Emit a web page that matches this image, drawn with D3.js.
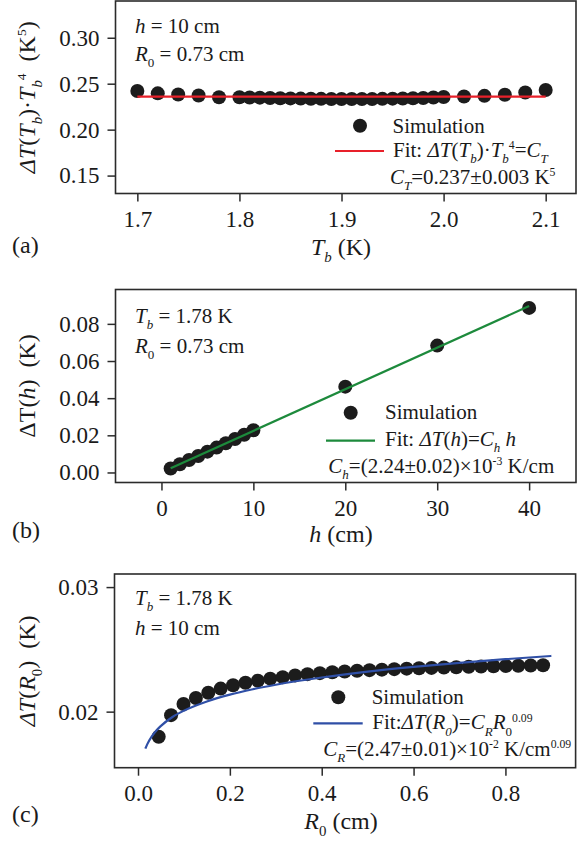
<!DOCTYPE html>
<html><head><meta charset="utf-8">
<script src="https://cdn.jsdelivr.net/npm/d3@7"></script>
<style>html,body{margin:0;padding:0;background:#fff;} text{font-family:"Liberation Serif","Times New Roman",serif;white-space:pre;}</style>
</head><body>
<script>
// ---------- Panel (a) data ----------
const tbValues = [1.70,1.72,1.74,1.76,1.78,1.80,1.81,1.82,1.83,1.84,1.85,1.86,1.87,1.88,1.89,1.90,1.91,1.92,1.93,1.94,1.95,1.96,1.97,1.98,1.99,2.00,2.02,2.04,2.06,2.08,2.10];
const dtTb4Values = [0.2420,0.2395,0.2382,0.2372,0.2352,0.2352,0.2350,0.2348,0.2345,0.2342,0.2340,0.2338,0.2336,0.2335,0.2334,0.2333,0.2333,0.2334,0.2334,0.2335,0.2337,0.2339,0.2341,0.2344,0.2350,0.2356,0.2360,0.2368,0.2380,0.2405,0.2432];
const fitA_x = [1.70, 2.10];
const fitA_y = [0.236, 0.236];
const xTicksA = [1.7,1.8,1.9,2.0,2.1];
const yTicksA = [0.15,0.20,0.25,0.30];

// ---------- Panel (b) data ----------
const hValues = [1,2,3,4,5,6,7,8,9,10,20,30,40];
const dtHValues = [0.0021,0.0044,0.0067,0.0089,0.0112,0.0134,0.0157,0.0180,0.0203,0.0227,0.0462,0.0683,0.0886];
const fitB_x = [1, 40];
const fitB_y = [0.00224, 0.0896];
const xTicksB = [0,10,20,30,40];
const yTicksB = [0.00,0.02,0.04,0.06,0.08];

// ---------- Panel (c) data ----------
const r0Values = [0.045,0.072,0.099,0.126,0.153,0.180,0.207,0.234,0.261,0.288,0.315,0.342,0.369,0.396,0.423,0.450,0.477,0.504,0.531,0.558,0.585,0.612,0.639,0.666,0.693,0.720,0.747,0.774,0.801,0.828,0.855,0.882];
const dtRValues = [0.01798,0.01972,0.02061,0.02110,0.02152,0.02185,0.02212,0.02232,0.02249,0.02265,0.02277,0.02291,0.02301,0.02309,0.02316,0.02322,0.02328,0.02333,0.02337,0.02341,0.02345,0.02348,0.02351,0.02354,0.02357,0.02360,0.02362,0.02365,0.02367,0.02369,0.02371,0.02373];
const fitC_x = [0.016,0.02,0.03,0.04,0.05,0.075,0.1,0.15,0.2,0.25,0.3,0.4,0.5,0.6,0.7,0.8,0.9];
const fitC_y = [0.01703,0.01737,0.01801,0.01849,0.01886,0.01957,0.02008,0.02082,0.02137,0.02180,0.02216,0.02274,0.02321,0.02359,0.02392,0.02421,0.02447];
const xTicksC = [0.0,0.2,0.4,0.6,0.8];
const yTicksC = [0.02,0.03];

const W = 585, H = 844;
const svg = d3.select("body").append("svg").attr("width", W).attr("height", H);
svg.append("rect").attr("width", W).attr("height", H).attr("fill", "#fff");

const DOT = "#1c1c1c", SPINE = "#2b2b2b";

function rich(g, x, y, parts, size, anchor) {
  const t = g.append("text").attr("x", x).attr("y", y).attr("font-size", size)
    .attr("fill", "#1a1a1a").attr("text-anchor", anchor || "start");
  let shift = 0;
  parts.forEach(([s, f]) => {
    const sub = f.includes("b"), sup = f.includes("p");
    const target = sub ? size * 0.30 : sup ? -size * 0.36 : 0;
    const ts = t.append("tspan").text(s).attr("dy", target - shift);
    shift = target;
    if (sub) ts.attr("font-size", size * 0.62);
    if (sup) ts.attr("font-size", size * 0.56);
    if (f.includes("i")) ts.attr("font-style", "italic");
  });
  return t;
}

function panel(cfg) {
  const g = svg.append("g");
  const x = d3.scaleLinear().domain(cfg.xDomain).range([cfg.l, cfg.r]);
  const y = d3.scaleLinear().domain(cfg.yDomain).range([cfg.b, cfg.t]);

  const ax = g.append("g").attr("transform", `translate(0,${cfg.b})`)
    .call(d3.axisBottom(x).tickValues(cfg.xTicks).tickFormat(cfg.xFmt).tickSize(8).tickSizeOuter(0).tickPadding(9));
  const ay = g.append("g").attr("transform", `translate(${cfg.l},0)`)
    .call(d3.axisLeft(y).tickValues(cfg.yTicks).tickFormat(cfg.yFmt).tickSize(8).tickSizeOuter(0).tickPadding(8));
  [ax, ay].forEach(a => {
    a.select(".domain").remove();
    a.selectAll(".tick line").attr("stroke", SPINE).attr("stroke-width", 1.5);
    a.selectAll(".tick text").attr("font-size", 23).attr("fill", "#1a1a1a")
      .attr("font-family", "Liberation Serif, Times New Roman, serif");
  });

  const line = d3.line().x(d => x(d[0])).y(d => y(d[1])).curve(d3.curveMonotoneX);
  g.append("g").selectAll("circle").data(cfg.px.map((v, i) => [v, cfg.py[i]])).join("circle")
    .attr("cx", d => x(d[0])).attr("cy", d => y(d[1])).attr("r", 7).attr("fill", DOT);
  g.append("path").datum(cfg.fx.map((v, i) => [v, cfg.fy[i]])).attr("d", line)
    .attr("fill", "none").attr("stroke", cfg.color).attr("stroke-width", 2.2);

  g.append("rect").attr("x", cfg.l).attr("y", cfg.t).attr("width", cfg.r - cfg.l).attr("height", cfg.b - cfg.t)
    .attr("fill", "none").attr("stroke", SPINE).attr("stroke-width", 1.6);

  rich(g, 135, cfg.t + cfg.ann1dy, cfg.ann1, 21);
  rich(g, 135, cfg.t + cfg.ann2dy, cfg.ann2, 21);

  const L = cfg.leg;
  g.append("circle").attr("cx", L.dotX).attr("cy", L.dotY).attr("r", 7).attr("fill", DOT);
  g.append("text").attr("x", L.simX).attr("y", L.simY).attr("font-size", 21).attr("fill", "#1a1a1a").text("Simulation");
  g.append("line").attr("x1", L.lx1).attr("x2", L.lx2).attr("y1", L.ly).attr("y2", L.ly)
    .attr("stroke", cfg.color).attr("stroke-width", 2.2);
  rich(g, L.fitX, L.fitY, cfg.fitText, 21);
  rich(g, L.cX, L.cY, cfg.cText, 21);

  rich(g, 341, cfg.xlabY, cfg.xlab, 24, "middle");
  const yl = g.append("g").attr("transform", `translate(35,${(cfg.t + cfg.b) / 2}) rotate(-90)`);
  rich(yl, 0, 0, cfg.ylab, 24, "middle");
  g.append("text").attr("x", 12).attr("y", cfg.letterY).attr("font-size", 24).attr("fill", "#1a1a1a").text(cfg.letter);
}

panel({
  l: 115.5, r: 576, t: 1, b: 193.5,
  xDomain: [1.6786, 2.1297], yDomain: [0.1305, 0.3400],
  xTicks: xTicksA, yTicks: yTicksA, xFmt: d3.format(".1f"), yFmt: d3.format(".2f"),
  px: tbValues, py: dtTb4Values, fx: fitA_x, fy: fitA_y, color: "#e8202a",
  ann1dy: 32, ann1: [["h", "i"], [" = 10 cm", ""]],
  ann2dy: 60, ann2: [["R", "i"], ["0", "b"], [" = 0.73 cm", ""]],
  leg: { dotX: 360, dotY: 125.7, simX: 392.5, simY: 132.5, lx1: 335, lx2: 384, ly: 151, fitX: 393, fitY: 157, cX: 390, cY: 184 },
  fitText: [["Fit: ", ""], ["ΔT", "i"], ["(", ""], ["T", "i"], ["b", "ib"], [")·", ""], ["T", "i"], ["b", "ib"], ["4", "p"], ["=", ""], ["C", "i"], ["T", "ib"]],
  cText: [["C", "i"], ["T", "ib"], ["=0.237±0.003 K", ""], ["5", "p"]],
  xlab: [["T", "i"], ["b", "ib"], [" (K)", ""]], xlabY: 255,
  ylab: [["ΔT", "i"], ["(", ""], ["T", "i"], ["b", "ib"], [")·", ""], ["T", "i"], ["b", "ib"], ["4", "p"], ["  (K", ""], ["5", "p"], [")", ""]],
  letter: "(a)", letterY: 253
});

panel({
  l: 115.5, r: 576, t: 289.5, b: 482.5,
  xDomain: [-5.0, 45.1], yDomain: [-0.0054, 0.0985],
  xTicks: xTicksB, yTicks: yTicksB, xFmt: d3.format("d"), yFmt: d3.format(".2f"),
  px: hValues, py: dtHValues, fx: fitB_x, fy: fitB_y, color: "#1d8a3c",
  ann1dy: 33, ann1: [["T", "i"], ["b", "ib"], [" = 1.78 K", ""]],
  ann2dy: 63, ann2: [["R", "i"], ["0", "b"], [" = 0.73 cm", ""]],
  leg: { dotX: 350.7, dotY: 412.7, simX: 385, simY: 419.3, lx1: 326, lx2: 375, ly: 440.7, fitX: 385, fitY: 446, cX: 328.3, cY: 472.5 },
  fitText: [["Fit: ", ""], ["ΔT", "i"], ["(", ""], ["h", "i"], [")=", ""], ["C", "i"], ["h", "ib"], [" ", ""], ["h", "i"]],
  cText: [["C", "i"], ["h", "ib"], ["=(2.24±0.02)×10", ""], ["-3", "p"], [" K/cm", ""]],
  xlab: [["h", "i"], [" (cm)", ""]], xlabY: 541.5,
  ylab: [["ΔT(", ""], ["h", "i"], [")  (K)", ""]],
  letter: "(b)", letterY: 538
});

panel({
  l: 114.5, r: 575.6, t: 574, b: 767.7,
  xDomain: [-0.0512, 0.9528], yDomain: [0.0155, 0.03105],
  xTicks: xTicksC, yTicks: yTicksC, xFmt: d3.format(".1f"), yFmt: d3.format(".2f"),
  px: r0Values, py: dtRValues, fx: fitC_x, fy: fitC_y, color: "#2f4fa6",
  ann1dy: 31, ann1: [["T", "i"], ["b", "ib"], [" = 1.78 K", ""]],
  ann2dy: 61, ann2: [["h", "i"], [" = 10 cm", ""]],
  leg: { dotX: 338.3, dotY: 697.3, simX: 371.7, simY: 704, lx1: 313.3, lx2: 362.7, ly: 723.3, fitX: 372.3, fitY: 729.3, cX: 323.3, cY: 756 },
  fitText: [["Fit:", ""], ["ΔT", "i"], ["(", ""], ["R", "i"], ["0", "ib"], [")=", ""], ["C", "i"], ["R", "ib"], ["R", "i"], ["0", "b"], ["0.09", "p"]],
  cText: [["C", "i"], ["R", "ib"], ["=(2.47±0.01)×10", ""], ["-2", "p"], [" K/cm", ""], ["0.09", "p"]],
  xlab: [["R", "i"], ["0", "b"], [" (cm)", ""]], xlabY: 829,
  ylab: [["ΔT", "i"], ["(", ""], ["R", "i"], ["0", "b"], [")  (K)", ""]],
  letter: "(c)", letterY: 822
});
</script>
</body></html>
